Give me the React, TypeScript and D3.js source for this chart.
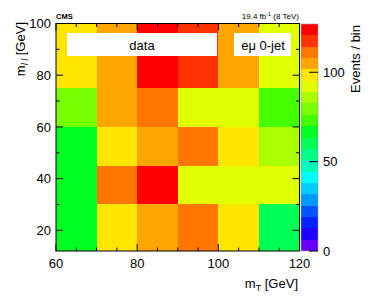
import { useEffect, useRef } from "react";
import * as d3 from "d3";

// bin edges
const mtEdges = [60, 70, 80, 90, 100, 110, 120];
const mllEdges = [12, 30, 45, 60, 75, 100];

// events per bin, one array per m_ll row (bottom to top), columns follow mtEdges
const row12to30 = [66, 98, 104, 111, 98, 60];
const row30to45 = [66, 111, 124, 92, 92, 92];
const row45to60 = [66, 98, 104, 111, 98, 85];
const row60to75 = [79, 104, 111, 92, 92, 73];
const row75to100 = [98, 104, 124, 117, 104, 92];
const rows = [row12to30, row30to45, row45to60, row60to75, row75to100];

const zMax = 127;
const zTicks = [0, 50, 100];
const xTicks = [60, 80, 100, 120];
const yTicks = [20, 40, 60, 80, 100];

// 20-step rainbow palette, low to high
const palette = [
  "#6600ff", "#2200ff", "#0022ff", "#0055ff", "#0099ff",
  "#00ccff", "#00ffff", "#00ffbb", "#00ff88", "#00ff55",
  "#00ff22", "#44ff00", "#77ff00", "#aaff00", "#e0ff00",
  "#ffe600", "#ffa500", "#ff7700", "#ff3300", "#ff0000",
];

const font = "'Liberation Sans', Arial, Helvetica, sans-serif";

export default function App() {
  const ref = useRef<HTMLDivElement>(null);

  useEffect(() => {
    const container = d3.select(ref.current);
    container.selectAll("*").remove();

    const width = 374, height = 296;
    const svg = container.append("svg")
      .attr("width", width)
      .attr("height", height)
      .style("position", "absolute")
      .style("left", 0)
      .style("top", 0)
      .style("font-family", font);

    const x = d3.scaleLinear().domain([60, 120]).range([56, 299.5]);
    const y = d3.scaleLinear().domain([12, 100]).range([251, 23.5]);
    const z = d3.scaleLinear().domain([0, zMax]).range([251, 24]);
    const color = d3.scaleQuantize<string>().domain([0, zMax]).range(palette);

    svg.append("rect").attr("width", width).attr("height", height).attr("fill", "white");

    const cells = rows.flatMap((row, j) =>
      row.map((v, i) => ({ x0: mtEdges[i], x1: mtEdges[i + 1], y0: mllEdges[j], y1: mllEdges[j + 1], v }))
    );

    svg.append("g")
      .selectAll("rect")
      .data(cells)
      .join("rect")
        .attr("x", d => x(d.x0))
        .attr("y", d => y(d.y1))
        .attr("width", d => x(d.x1) - x(d.x0))
        .attr("height", d => y(d.y0) - y(d.y1))
        .attr("fill", d => color(d.v))
        .attr("shape-rendering", "crispEdges");

    const [x0, x1] = x.range();
    const [yb, yt] = y.range();
    const ticks = svg.append("g").attr("stroke", "#000").attr("stroke-width", 1);

    // x ticks every 5, major at 20
    d3.range(60, 121, 5).forEach(v => {
      const len = v % 20 === 0 ? 7 : 3.5;
      ticks.append("line").attr("x1", x(v)).attr("x2", x(v)).attr("y1", yb).attr("y2", yb - len);
      ticks.append("line").attr("x1", x(v)).attr("x2", x(v)).attr("y1", yt).attr("y2", yt + len);
    });
    // y ticks every 10, major at 20
    d3.range(20, 101, 10).forEach(v => {
      const len = v % 20 === 0 ? 7 : 3.5;
      ticks.append("line").attr("x1", x0).attr("x2", x0 + len).attr("y1", y(v)).attr("y2", y(v));
      ticks.append("line").attr("x1", x1).attr("x2", x1 - len).attr("y1", y(v)).attr("y2", y(v));
    });

    svg.append("rect")
      .attr("x", x0).attr("y", yt)
      .attr("width", x1 - x0).attr("height", yb - yt)
      .attr("fill", "none").attr("stroke", "#000").attr("stroke-width", 1);

    // tick labels
    svg.append("g").selectAll("text").data(xTicks).join("text")
      .attr("x", d => x(d)).attr("y", 268)
      .attr("text-anchor", "middle").attr("font-size", 13)
      .text(d => d);
    svg.append("g").selectAll("text").data(yTicks).join("text")
      .attr("x", 51).attr("y", d => y(d) + 4.7)
      .attr("text-anchor", "end").attr("font-size", 13)
      .text(d => d);

    // axis titles
    const xt = svg.append("text").attr("x", 298).attr("y", 288)
      .attr("text-anchor", "end").attr("font-size", 13);
    xt.append("tspan").text("m");
    xt.append("tspan").attr("font-size", 9).attr("dy", 3).text("T");
    xt.append("tspan").attr("dy", -3).text(" [GeV]");

    const yt2 = svg.append("text").attr("transform", "translate(25,22) rotate(-90)")
      .attr("text-anchor", "end").attr("font-size", 13);
    yt2.append("tspan").text("m");
    yt2.append("tspan").attr("font-size", 9).attr("font-style", "italic").attr("dy", 3).text("l l");
    yt2.append("tspan").attr("dy", -3).text(" [GeV]");

    // colour bar
    const bw = 17, bx = 301;
    const steps = palette.map((c, k) => ({ c, lo: (k * zMax) / palette.length, hi: ((k + 1) * zMax) / palette.length }));
    svg.append("g").selectAll("rect").data(steps).join("rect")
      .attr("x", bx).attr("width", bw)
      .attr("y", d => z(d.hi)).attr("height", d => z(d.lo) - z(d.hi))
      .attr("fill", d => d.c).attr("shape-rendering", "crispEdges");
    svg.append("rect").attr("x", bx).attr("y", z(zMax)).attr("width", bw).attr("height", z(0) - z(zMax))
      .attr("fill", "none").attr("stroke", "#999").attr("stroke-width", 0.6);
    svg.append("g").selectAll("line").data(zTicks).join("line")
      .attr("x1", bx + bw - 9).attr("x2", bx + bw)
      .attr("y1", d => z(d)).attr("y2", d => z(d))
      .attr("stroke", "#000").attr("stroke-width", 1);
    svg.append("g").selectAll("text").data(zTicks).join("text")
      .attr("x", 323).attr("y", d => z(d) + 4.7)
      .attr("font-size", 13).text(d => d);
    svg.append("text").attr("transform", "translate(360,25) rotate(-90)")
      .attr("text-anchor", "end").attr("font-size", 13).text("Events / bin");

    // header
    svg.append("text").attr("x", 56).attr("y", 18.5)
      .attr("font-size", 7.5).attr("font-weight", "bold").text("CMS");
    const lumi = svg.append("text").attr("x", 299).attr("y", 18.5)
      .attr("text-anchor", "end").attr("font-size", 8);
    lumi.append("tspan").text("19.4 fb");
    lumi.append("tspan").attr("font-size", 5.5).attr("dy", -3).text("-1");
    lumi.append("tspan").attr("dy", 3).text(" (8 TeV)");

    // legend boxes
    svg.append("rect").attr("x", 67).attr("y", 33).attr("width", 150).attr("height", 23).attr("fill", "white");
    svg.append("text").attr("x", 142).attr("y", 49.5).attr("text-anchor", "middle")
      .attr("font-size", 13).text("data");
    svg.append("rect").attr("x", 234).attr("y", 33).attr("width", 57).attr("height", 23).attr("fill", "white");
    svg.append("text").attr("x", 263).attr("y", 49.5).attr("text-anchor", "middle")
      .attr("font-size", 13).text("eμ 0-jet");
  }, []);

  return <div ref={ref}></div>;
}
